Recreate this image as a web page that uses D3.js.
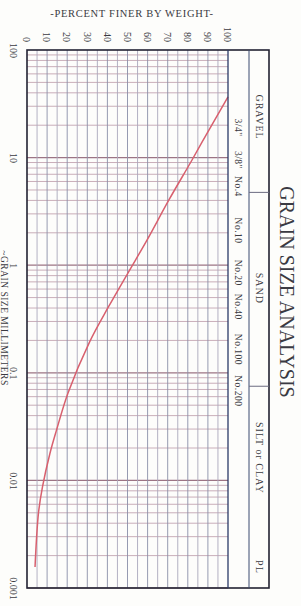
<!DOCTYPE html>
<html>
<head>
<meta charset="utf-8">
<script src="https://cdn.jsdelivr.net/npm/d3@7"></script>
<style>
  html, body { margin: 0; padding: 0; background: #fdfdfb; }
  svg { display: block; }
  text { font-family: "Liberation Serif", "DejaVu Serif", serif; fill: #3a3a42; }
</style>
</head>
<body>
<svg id="chart" width="301" height="606"></svg>
<script>
// ---------- data ----------
const grainSizeMM   = [36.6, 18.05, 9.5, 4.04, 1.71, 0.846, 0.409, 0.193, 0.0649, 0.0294, 0.0178, 0.00869, 0.00496, 0.00157];
const percentFiner  = [100, 90.5, 82.1, 70.6, 59.7, 50.2, 40.5, 31.1, 20.4, 14.7, 11.4, 7.7, 5.7, 4.0];

const sizeTicks       = [100, 10, 1, 0.1, 0.01, 0.001];
const sizeTickLabels  = ["100", "10", "1", "0.1", "0.01", "0.001"];
const percentTicks    = [0, 10, 20, 30, 40, 50, 60, 70, 80, 90, 100];

const sieveNames    = ["3/4\"", "3/8\"", "No.4", "No.10", "No.20", "No.40", "No.100", "No.200"];
const sieveSizes    = [19.0, 9.5, 4.75, 2.0, 0.85, 0.425, 0.15, 0.075];
const sieveLabelMM  = [19.0, 9.5, 5.4, 2.1, 0.85, 0.41, 0.165, 0.068];  // grain size at each label centre

const soilClasses     = ["GRAVEL", "SAND", "SILT or CLAY", "PL"];
const soilClassCenter = [23.8, 0.61, 0.0162, 0.00157];   // grain size (mm) at label centre
const soilBoundaries  = [4.75, 0.075];

const title        = "GRAIN SIZE ANALYSIS";
const percentTitle = "-PERCENT FINER BY WEIGHT-";
const sizeTitle    = "~GRAIN SIZE MILLIMETERS";

// ---------- layout (drawn in the chart's own orientation, then turned 90° clockwise) ----------
const W = 301;
const svg = d3.select("#chart");
const g = svg.append("g").attr("transform", `translate(${W},0) rotate(90)`);

const x = d3.scaleLog().domain([100, 0.001]).range([50, 588]);
const y = d3.scaleLinear().domain([0, 100]).range([274, 73]);

const bandInner = 52, bandOuter = 32;

// log grid values
const logGrid = [];
for (let e = -3; e < 2; e++) for (let m = 1; m <= 9; m++) logGrid.push(m * Math.pow(10, e));
const isDecade = d => Math.abs(Math.log10(d) - Math.round(Math.log10(d))) < 1e-9;

// grain-size grid lines (horizontal on screen)
g.append("g").selectAll("line").data(logGrid).join("line")
  .attr("x1", d => x(d)).attr("x2", d => x(d))
  .attr("y1", y(0)).attr("y2", y(100))
  .attr("stroke", d => isDecade(d) ? "#9c7484" : "#c3a5b1")
  .attr("stroke-width", d => isDecade(d) ? 1.2 : 0.9);

// percent grid lines every 5 (vertical on screen)
const pctGrid = d3.range(5, 100, 5);
g.append("g").selectAll("line").data(pctGrid).join("line")
  .attr("x1", x(100)).attr("x2", x(0.001))
  .attr("y1", d => y(d)).attr("y2", d => y(d))
  .attr("stroke", d => d % 10 === 0 ? "#8a8ea8" : "#aaa8bc")
  .attr("stroke-width", 0.9);

// curve
const line = d3.line()
  .x((d, i) => x(grainSizeMM[i]))
  .y((d, i) => y(percentFiner[i]))
  .curve(d3.curveCatmullRom.alpha(0.5));
g.append("path").datum(percentFiner)
  .attr("d", line)
  .attr("fill", "none")
  .attr("stroke", "#d8606e")
  .attr("stroke-width", 1.5);

// frame
g.append("rect")
  .attr("x", x(100)).attr("y", bandOuter)
  .attr("width", x(0.001) - x(100)).attr("height", y(0) - bandOuter)
  .attr("fill", "none").attr("stroke", "#222233").attr("stroke-width", 1.6);
g.append("line").attr("x1", x(100)).attr("x2", x(0.001)).attr("y1", y(100)).attr("y2", y(100))
  .attr("stroke", "#2a3a66").attr("stroke-width", 1.3);
g.append("line").attr("x1", x(100)).attr("x2", x(0.001)).attr("y1", bandInner).attr("y2", bandInner)
  .attr("stroke", "#3a4a70").attr("stroke-width", 1);
g.append("g").selectAll("line").data(soilBoundaries).join("line")
  .attr("x1", d => x(d)).attr("x2", d => x(d))
  .attr("y1", bandInner).attr("y2", bandOuter)
  .attr("stroke", "#6a6a80").attr("stroke-width", 1);

// sieve labels
g.append("g").selectAll("text").data(sieveNames).join("text")
  .attr("x", (d, i) => x(sieveLabelMM[i]))
  .attr("y", 66)
  .attr("text-anchor", "middle")
  .attr("font-size", 9.5)
  .attr("letter-spacing", 0.5)
  .text(d => d);

// soil classes
g.append("g").selectAll("text").data(soilClasses).join("text")
  .attr("x", (d, i) => x(soilClassCenter[i]))
  .attr("y", 45)
  .attr("text-anchor", "middle")
  .attr("font-size", 10)
  .attr("letter-spacing", 1)
  .text(d => d);

// percent axis
const pAxis = d3.axisLeft(y).tickValues(percentTicks).tickSize(0).tickPadding(8);
const pA = g.append("g").attr("transform", `translate(${x(100)},0)`).call(pAxis);
pA.select(".domain").remove();
pA.selectAll("text").attr("font-size", 10).attr("font-family", "Liberation Serif, serif").attr("fill", "#3a3a42");

// size axis
const sAxis = d3.axisBottom(x).tickValues(sizeTicks)
  .tickFormat((d, i) => sizeTickLabels[i]).tickSize(0).tickPadding(10);
const sA = g.append("g").attr("transform", `translate(0,${y(0)})`).call(sAxis);
sA.select(".domain").remove();
sA.selectAll("text").attr("font-size", 10).attr("font-family", "Liberation Serif, serif").attr("fill", "#3a3a42");

// titles
g.append("text")
  .attr("x", 292).attr("y", 21)
  .attr("text-anchor", "middle")
  .attr("font-size", 20)
  .attr("fill", "#2a2a30")
  .text(title);

g.append("text")
  .attr("transform", `translate(17,${W - 132}) rotate(-90)`)
  .attr("text-anchor", "middle")
  .attr("font-size", 10.5)
  .attr("letter-spacing", 0.7)
  .text(percentTitle);

g.append("text")
  .attr("x", 318).attr("y", 300)
  .attr("text-anchor", "middle")
  .attr("font-size", 9.5)
  .attr("letter-spacing", 0.5)
  .text(sizeTitle);
</script>
</body>
</html>
